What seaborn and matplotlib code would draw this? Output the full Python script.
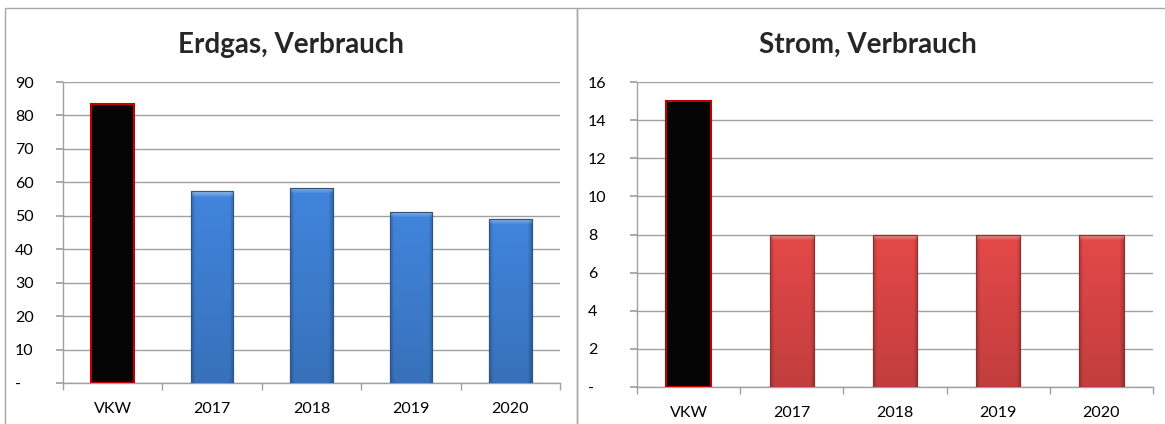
import numpy as np
import pandas as pd
import matplotlib
matplotlib.use("Agg")
import matplotlib.pyplot as plt
from matplotlib.patches import Rectangle
from matplotlib.ticker import FuncFormatter
from matplotlib.colors import to_rgb
import seaborn as sns

# ====================== data ======================
categories = ["VKW", "2017", "2018", "2019", "2020"]
erdgas_values = [83.3, 57.4, 58.4, 51.2, 49.1]
strom_values = [15.0, 8.0, 8.0, 8.0, 8.0]
erdgas_ticks = [0, 10, 20, 30, 40, 50, 60, 70, 80, 90]
strom_ticks = [0, 2, 4, 6, 8, 10, 12, 14, 16]
titles = ["Erdgas, Verbrauch", "Strom, Verbrauch"]

sns.set_theme(style="white")
plt.rcParams['font.family'] = ['Lato', 'DejaVu Sans']

fig = plt.figure(figsize=(11.65, 4.24), dpi=100)

# panel frames
frame_col = "#a6a6a6"
fig.add_artist(Rectangle((5/1165, -0.01), 572/1165, 1 - 8/424 + 0.01,
                         transform=fig.transFigure, fill=False, ec=frame_col, lw=1))
fig.add_artist(Rectangle((577/1165, -0.01), 0.6, 1 - 8/424 + 0.01,
                         transform=fig.transFigure, fill=False, ec=frame_col, lw=1))

ax1 = fig.add_axes([63/1165, 1 - 383/424, 497/1165, 301/424])
ax2 = fig.add_axes([637/1165, 1 - 387/424, 516/1165, 305/424])


def zero_dash(v, pos):
    return "-" if v == 0 else f"{v:g}"


def shade_bar(ax, patch, base, edge_col):
    # bevel-like gradient clipped to the bar
    x0, y0 = patch.get_x(), patch.get_y()
    w, h = patch.get_width(), patch.get_height()
    p0 = ax.transData.transform((x0, y0))
    p1 = ax.transData.transform((x0 + w, y0 + h))
    cols = max(int(abs(p1[0] - p0[0])), 2)
    rows = max(int(abs(p1[1] - p0[1])), 2)
    c = np.array(to_rgb(base))
    t = np.linspace(0, 1, rows)[:, None]          # 0 top -> 1 bottom
    u = np.linspace(0, 1, cols)[None, :]
    edge = np.clip(1 - np.minimum(u, 1 - u) * cols / 4, 0, 1)
    f = (1.04 - 0.16 * t) * (1 - 0.2 * edge)
    img = c[None, None, :] * f[:, :, None]
    bevel = 6
    for r in range(min(bevel, rows)):
        k = 0.4 * (1 - r / bevel)
        img[r] = img[r] + (1 - img[r]) * k
    img = np.clip(img, 0, 1)
    im = ax.imshow(img, extent=(x0, x0 + w, y0, y0 + h), aspect="auto",
                   origin="upper", zorder=3.1, interpolation="bilinear")
    im.set_clip_path(patch)
    ax.add_patch(Rectangle((x0, y0), w, h, fill=False, ec=edge_col, lw=0.8, zorder=3.2))


def draw(ax, values, ticks, bar_col, edge_col, title, title_x):
    df = pd.DataFrame({"cat": categories, "val": values})
    pal = ["#050505"] + [bar_col] * 4
    sns.barplot(data=df, x="cat", y="val", hue="cat", palette=pal, legend=False,
                width=0.43, ax=ax, saturation=1)
    ax.set_xlim(-0.5, 4.5)
    ax.set_ylim(ticks[0], ticks[-1])
    bars = list(ax.patches)
    for i, p in enumerate(bars):
        p.set_edgecolor("#c00000" if i == 0 else edge_col)
        p.set_linewidth(1.5 if i == 0 else 0.8)
        p.set_zorder(3)
    for p in bars[1:]:
        shade_bar(ax, p, bar_col, edge_col)
    ax.set_yticks(ticks)
    ax.yaxis.set_major_formatter(FuncFormatter(zero_dash))
    ax.yaxis.grid(True, color="#a0a0a0", lw=1)
    ax.set_axisbelow(True)
    ax.set_xlabel("")
    ax.set_ylabel("")
    for s in ["top", "right"]:
        ax.spines[s].set_visible(False)
    for s in ["left", "bottom"]:
        ax.spines[s].set_color("#a0a0a0")
        ax.spines[s].set_linewidth(1)
    ax.set_xticks(np.arange(-0.5, 5, 1), minor=True)
    ax.tick_params(axis="x", which="major", length=0, pad=14, labelsize=11.5, colors="black")
    ax.tick_params(axis="x", which="minor", length=5, color="#a0a0a0", direction="out", bottom=True)
    ax.tick_params(axis="y", length=5, color="#a0a0a0", direction="out", left=True,
                   labelsize=11.5, colors="black")
    fig.text(title_x, 1 - 45/424, title, ha="center", va="center",
             fontsize=20, fontweight="bold")


draw(ax1, erdgas_values, erdgas_ticks, "#3f80d4", "#2d5588", titles[0], 291/1165)
draw(ax2, strom_values, strom_ticks, "#dc4646", "#8a3030", titles[1], 868/1165)

# y tick labels left aligned near panel edge
for ax, x0 in [(ax1, 22), (ax2, 595)]:
    for lab in ax.get_yticklabels():
        lab.set_horizontalalignment("left")
    ax.tick_params(axis="y", pad=(ax.get_position().x0 * 1165 - x0) * 0.72)

fig.savefig("out.png", dpi=100)
